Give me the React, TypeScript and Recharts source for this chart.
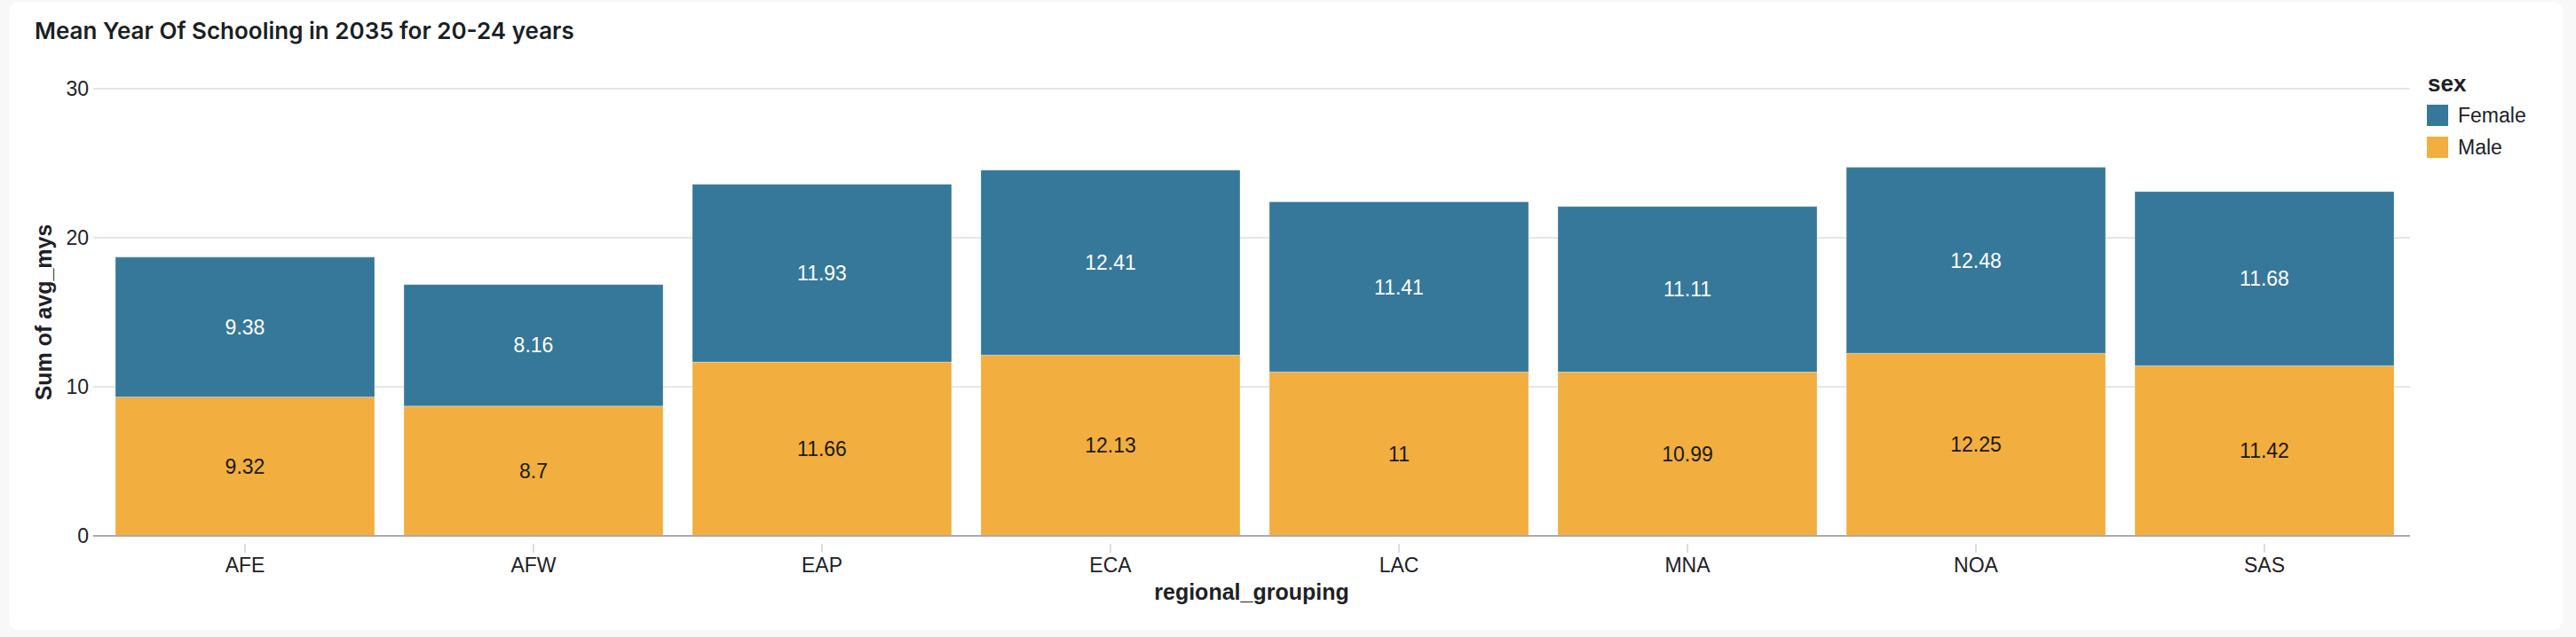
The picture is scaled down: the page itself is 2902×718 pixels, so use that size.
import React from 'react';
import { Bar, BarChart, CartesianGrid, LabelList, Legend, XAxis, YAxis } from 'recharts';

const regions = ['AFE', 'AFW', 'EAP', 'ECA', 'LAC', 'MNA', 'NOA', 'SAS'];
const femaleValues = [9.38, 8.16, 11.93, 12.41, 11.41, 11.11, 12.48, 11.68];
const maleValues = [9.32, 8.7, 11.66, 12.13, 11, 10.99, 12.25, 11.42];
const yTicks = [0, 10, 20, 30];
const legendOrder = ['Female', 'Male'];

const data = regions.map((region, i) => ({
	region,
	female: femaleValues[i],
	male: maleValues[i],
}));

const FONT = '"Liberation Sans", Arial, Helvetica, sans-serif';
const TEXT = '#1e2126';
const BLUE = '#36789a';
const ORANGE = '#f2ae3e';

const XTick = (props: any) => {
	const { x, y, payload } = props;
	return (
		<g>
			<line x1={x} x2={x} y1={y + 9} y2={y + 19} stroke="#dddddd" strokeWidth={2} />
			<text x={x} y={y + 41} textAnchor="middle" fill={TEXT} fontSize={23} fontFamily={FONT}>
				{payload.value}
			</text>
		</g>
	);
};

const LegendBox = (props: any) => {
	const items = [...(props.payload ?? [])].sort(
		(a: any, b: any) => legendOrder.indexOf(a.value) - legendOrder.indexOf(b.value),
	);
	return (
		<svg width={170} height={120} style={{ display: 'block' }}>
			<text x={7} y={33} fontSize={26} fontWeight={700} fill={TEXT} fontFamily={FONT}>
				sex
			</text>
			{items.map((item: any, i: number) => (
				<g key={item.value}>
					<rect x={6} y={48 + i * 36} width={24} height={24} fill={item.color} />
					<text x={41} y={68 + i * 36} fontSize={23} fill={TEXT} fontFamily={FONT}>
						{item.value}
					</text>
				</g>
			))}
		</svg>
	);
};

export default function App() {
	return (
		<div
			style={{
				position: 'absolute',
				left: 0,
				top: 0,
				width: 2902,
				height: 718,
				background: '#f8f8f8',
				overflow: 'hidden',
			}}
		>
			<div
				style={{
					position: 'absolute',
					left: 10,
					top: 2,
					width: 2877,
					height: 708,
					background: '#ffffff',
					borderRadius: 12,
				}}
			/>
			<div
				style={{
					position: 'absolute',
					left: 39,
					top: 22,
					fontFamily: 'Inter, sans-serif',
					fontWeight: 600,
					fontSize: 26,
					lineHeight: '26px',
					color: '#1a1f24',
					whiteSpace: 'nowrap',
				}}
			>
				Mean Year Of Schooling in 2035 for 20-24 years
			</div>
			<div style={{ position: 'absolute', left: 0, top: 0 }}>
				<BarChart
					width={2902}
					height={718}
					data={data}
					margin={{ top: 100, right: 187, bottom: 0, left: 0 }}
					barCategoryGap={16.5}
					style={{ fontFamily: FONT }}
				>
					<CartesianGrid vertical={false} stroke="#e6e6e6" strokeWidth={2} />
					<XAxis
						dataKey="region"
						height={114}
						padding={{ left: 8.5, right: 1.5 }}
						axisLine={{ stroke: '#aaaaaa', strokeWidth: 2 }}
						tickLine={false}
						tickSize={0}
						tickMargin={0}
						tick={<XTick />}
						interval={0}
						label={{
							value: 'regional_grouping',
							position: 'insideBottom',
							offset: 42,
							fill: TEXT,
							fontSize: 25,
							fontWeight: 700,
						}}
					/>
					<YAxis
						width={105}
						domain={[0, 30]}
						ticks={yTicks}
						axisLine={false}
						tickLine={false}
						tickSize={0}
						tickMargin={5}
						tick={{ fill: TEXT, fontSize: 23 }}
						label={{
							value: 'Sum of avg_mys',
							position: 'center',
							angle: -90,
							dx: -3,
							fill: TEXT,
							fontSize: 25,
							fontWeight: 700,
						}}
					/>
					<Legend
						layout="vertical"
						align="center"
						verticalAlign="middle"
						content={<LegendBox />}
						wrapperStyle={{ position: 'absolute', left: 2728, top: 70, width: 170, height: 120 }}
					/>
					<Bar
						dataKey="male"
						name="Male"
						stackId="a"
						fill={ORANGE}
						stroke="#ffffff"
						strokeOpacity={0.3}
						strokeWidth={1}
						isAnimationActive={false}
					>
						<LabelList dataKey="male" position="center" fill="#1a1a1a" fontSize={23} fontFamily={FONT} />
					</Bar>
					<Bar
						dataKey="female"
						name="Female"
						stackId="a"
						fill={BLUE}
						stroke="#ffffff"
						strokeOpacity={0.3}
						strokeWidth={1}
						isAnimationActive={false}
					>
						<LabelList dataKey="female" position="center" fill="#ffffff" fontSize={23} fontFamily={FONT} />
					</Bar>
				</BarChart>
			</div>
		</div>
	);
}
